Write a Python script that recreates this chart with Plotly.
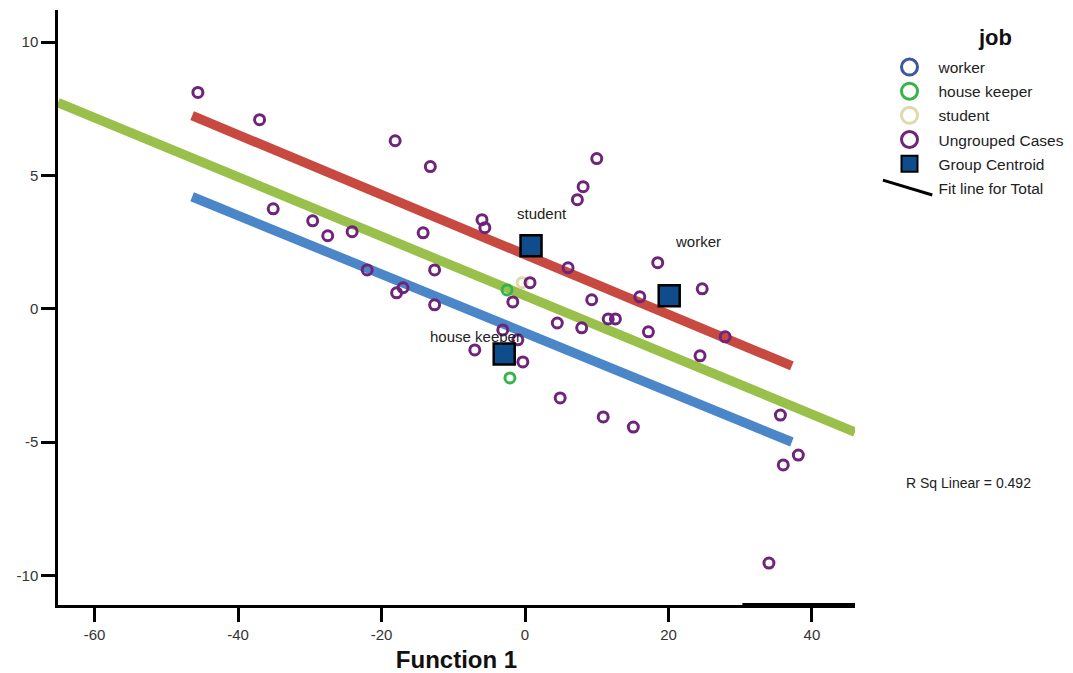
import plotly.graph_objects as go

# ---- data ----
ungrouped_x = [-45.6, -37.0, -18.1, -13.2, -35.1, -29.6, -27.5, -24.1, -14.2, -12.6, -22.0, -17.9,
               -17.0, -12.6, -6.0, -5.6, 10.0, 8.1, 7.3, 6.0, 0.7, -1.7, 4.5, 7.9, 11.6, 12.6,
               -7.0, -0.3, 4.9, 10.9, 15.1, -3.1, -1.0, 9.3, 16.0, 18.5, 17.2, 24.7, 24.4, 27.9,
               35.6, 36.0, 38.1, 34.0]
ungrouped_y = [8.11, 7.09, 6.30, 5.33, 3.75, 3.30, 2.74, 2.89, 2.85, 1.46, 1.46, 0.60,
               0.79, 0.15, 3.34, 3.04, 5.63, 4.58, 4.09, 1.54, 0.98, 0.26, -0.53, -0.71, -0.38, -0.38,
               -1.54, -1.99, -3.34, -4.05, -4.43, -0.79, -1.16, 0.34, 0.45, 1.73, -0.86, 0.75, -1.76, -1.05,
               -3.98, -5.85, -5.48, -9.53]
housekeeper_x = [-2.5, -2.1]
housekeeper_y = [0.71, -2.59]
student_x = [-0.4]
student_y = [0.98]
worker_x = []
worker_y = []

centroid_names = ["student", "house keeper", "worker"]
centroid_x = [0.84, -2.9, 20.1]
centroid_y = [2.36, -1.69, 0.49]

fit_red_x = [-46.4, 37.2]
fit_red_y = [7.24, -2.14]
fit_green_x = [-65.1, 46.0]
fit_green_y = [7.73, -4.62]
fit_blue_x = [-46.4, 37.2]
fit_blue_y = [4.20, -4.99]

x_ticks = [-60, -40, -20, 0, 20, 40]
y_ticks = [-10, -5, 0, 5, 10]
x_ticktext = ["-60", "-40", "-20", "0", "20", "40"]
y_ticktext = ["-10", "-5", "0", "5", "10"]
r_sq_text = "R Sq Linear = 0.492"

FONT = "Liberation Sans, Arial, sans-serif"

fig = go.Figure()

# fit lines
for fx, fy, col in [(fit_blue_x, fit_blue_y, "#4a86c8"),
                    (fit_green_x, fit_green_y, "#98c04b"),
                    (fit_red_x, fit_red_y, "#c8493f")]:
    fig.add_trace(go.Scatter(x=fx, y=fy, mode="lines", line=dict(color=col, width=9.5),
                             showlegend=False, hoverinfo="skip"))

groups = [
    ("worker", worker_x, worker_y, "#3f55a6"),
    ("house keeper", housekeeper_x, housekeeper_y, "#35b44a"),
    ("student", student_x, student_y, "#e0d9ad"),
    ("Ungrouped Cases", ungrouped_x, ungrouped_y, "#6e2479"),
]
for name, gx, gy, color in groups:
    if gx:
        fig.add_trace(go.Scatter(x=gx, y=gy, mode="markers", name=name, showlegend=False,
                                 marker=dict(symbol="circle-open", size=10, color=color,
                                             line=dict(width=3, color=color))))
    fig.add_trace(go.Scatter(x=[None], y=[None], mode="markers", name=name, legendgroup=name,
                             marker=dict(symbol="circle-open", size=16, color=color,
                                         line=dict(width=3, color=color))))

fig.add_trace(go.Scatter(x=centroid_x, y=centroid_y, mode="markers", name="Group Centroid",
                         showlegend=False,
                         marker=dict(symbol="square", size=21, color="#0f4c8c",
                                     line=dict(width=2.5, color="black"))))
fig.add_trace(go.Scatter(x=[None], y=[None], mode="markers", name="Group Centroid",
                         legendgroup="Group Centroid",
                         marker=dict(symbol="square", size=16, color="#0f4c8c",
                                     line=dict(width=2, color="black"))))

fig.add_trace(go.Scatter(x=[None], y=[None], mode="lines", name="Fit line for Total",
                         legendgroup="Fit line", line=dict(color="rgba(0,0,0,0)", width=3)))

# centroid labels
offsets = {"student": (11, 32), "house keeper": (-29, 17), "worker": (29, 54)}
for n, cx, cy in zip(centroid_names, centroid_x, centroid_y):
    dx, dy = offsets[n]
    fig.add_annotation(x=cx, y=cy, text=n, showarrow=False, xshift=dx, yshift=dy,
                       font=dict(family=FONT, size=15, color="#222"))

fig.add_annotation(x=1.142, y=0.205, xref="paper", yref="paper", text=r_sq_text,
                   xanchor="center", yanchor="middle",
                   showarrow=False, font=dict(family=FONT, size=14, color="#222"))

# legend title
fig.add_annotation(x=1.176, y=0.953, xref="paper", yref="paper", text="<b>job</b>",
                   xanchor="center", yanchor="middle",
                   showarrow=False, font=dict(family=FONT, size=22, color="#111"))

# slanted legend symbol for "Fit line for Total"
fig.add_shape(type="line", x0=1.035, x1=1.097, y0=0.714, y1=0.689, xref="paper", yref="paper",
              line=dict(color="black", width=3))

# thick segment at bottom right
fig.add_shape(type="line", x0=30.3, x1=46.0, y0=0, y1=0, xref="x", yref="paper",
              line=dict(color="black", width=4))

fig.update_layout(
    width=1065, height=665,
    margin=dict(l=50, r=218, t=2, b=68),
    paper_bgcolor="white", plot_bgcolor="white",
    font=dict(family=FONT, size=14, color="#222"),
    legend=dict(x=1.032, y=0.932, xanchor="left", yanchor="top",
                font=dict(family=FONT, size=15.5, color="#222"),
                itemsizing="trace", itemwidth=48, tracegroupgap=1, bgcolor="rgba(0,0,0,0)"),
    xaxis=dict(range=[-65.1, 46.0], tickvals=x_ticks, ticktext=x_ticktext,
               showgrid=False, zeroline=False,
               showline=True, linecolor="black", linewidth=2.5,
               ticks="outside", ticklen=14, tickwidth=3, tickcolor="black",
               tickfont=dict(family=FONT, size=15, color="#333"),
               title=dict(text="<b>Function 1</b>", font=dict(family=FONT, size=24, color="#111"),
                          standoff=12)),
    yaxis=dict(range=[-11.1, 11.2], tickvals=y_ticks, ticktext=y_ticktext,
               showgrid=False, zeroline=False,
               showline=True, linecolor="black", linewidth=2.5,
               ticks="outside", ticklen=14, tickwidth=3, tickcolor="black",
               tickfont=dict(family=FONT, size=15, color="#333")),
)

fig.write_html("out.html")
